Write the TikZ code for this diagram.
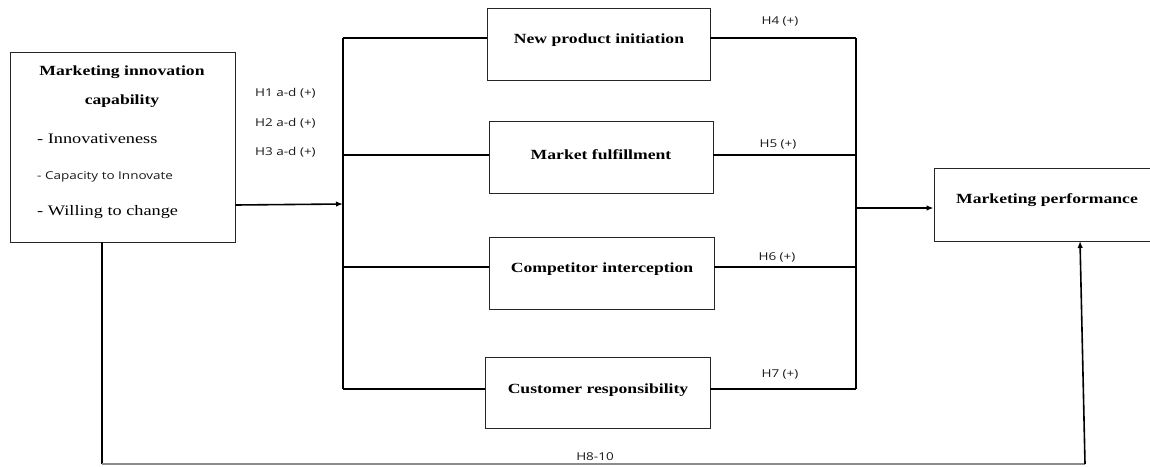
\documentclass[tikz,border=0pt]{standalone}
\usepackage{fontspec}
\setmainfont{Liberation Serif}
\newfontfamily\wideserif[FakeStretch=1.26]{Liberation Serif}
\newfontfamily\lblfont[FakeStretch=1.25]{Open Sans}
\usetikzlibrary{arrows.meta}
\tikzset{
  box/.style={draw=black!85, line width=0.9pt, rectangle, inner sep=0pt},
  conn/.style={draw=black, line width=1.6pt},
  bus/.style={draw=black, line width=2pt},
  arr/.style={conn, -{Latex[length=7pt,width=5.5pt]}},
  btxt/.style={font=\wideserif\fontsize{14}{16}\selectfont\bfseries, inner sep=0pt},
  rtxt/.style={font=\wideserif\fontsize{14.5}{16}\selectfont, inner sep=0pt, anchor=west},
  lbl/.style={font=\lblfont\fontsize{10.8}{12}\selectfont, inner sep=0pt, text=black!90}
}
\begin{document}
\begin{tikzpicture}[x=1pt,y=-1pt]
\useasboundingbox (0,0) rectangle (1150,466);
\clip (0,0) rectangle (1150,466);
% boxes
\node[box, minimum width=225pt, minimum height=190pt] (mic) at (122.5,147) {};
\node[box, minimum width=223pt, minimum height=72pt] (npi) at (598.5,44) {};
\node[box, minimum width=224pt, minimum height=72pt] (mf) at (601,157) {};
\node[box, minimum width=225pt, minimum height=72pt] (ci) at (601.5,273) {};
\node[box, minimum width=225pt, minimum height=71pt] (cr) at (597.5,392.5) {};
\node[box, minimum width=226pt, minimum height=73pt] (mp) at (1047,204.5) {};
% box texts
\node[btxt] (t1) at (122,72) {Marketing innovation};
\node[btxt] (t2) at (122,101) {capability};
\node[rtxt] (t3) at (37,139) {- Innovativeness};
\node[lbl, anchor=west] (t4) at (37,177) {- Capacity to Innovate};
\node[rtxt] (t5) at (37,212) {- Willing to change};
\node[btxt] (tnpi) at (599,40) {New product initiation};
\node[btxt] (tmf) at (601,155) {Market fulfillment};
\node[btxt] (tci) at (602,269) {Competitor interception};
\node[btxt] (tcr) at (598,390) {Customer responsibility};
\node[btxt] (tmp) at (1047,200) {Marketing performance};
% coordinates
\coordinate (lbin) at (343,204);
\coordinate (lbt) at (343,38);
\coordinate (lbb) at (343,389);
\coordinate (rbt) at (856,38);
\coordinate (rbb) at (856,389);
\coordinate (rbm) at (856,208);
\coordinate (d1) at (102,464);
\coordinate (d2) at (1085,464);
% left bus
\draw[arr] (mic.east |- 0,205) -- (lbin);
\draw[bus] (lbt) -- (lbb);
\draw[conn] (lbt) -- (npi.west |- lbt);
\draw[conn] (343,155) -- (mf.west |- 0,155);
\draw[conn] (343,267) -- (ci.west |- 0,267);
\draw[conn] (lbb) -- (cr.west |- lbb);
% right bus
\draw[conn] (npi.east |- rbt) -- (rbt);
\draw[conn] (mf.east |- 0,155) -- (856,155);
\draw[conn] (ci.east |- 0,267) -- (856,267);
\draw[conn] (cr.east |- rbb) -- (rbb);
\draw[bus] (rbt) -- (rbb);
\draw[arr] (rbm) -- (mp.west |- rbm);
% bottom link
\draw[conn] (mic.south -| 102,0) -- (d1);
\draw[draw=black!45, line width=1.6pt] (d1) -- (d2);
\draw[arr] (d2) -- (1080,241);
% labels
\node[lbl, anchor=west] (h1) at (255,93) {H1 a-d (+)};
\node[lbl, anchor=west] (h2) at (255,123) {H2 a-d (+)};
\node[lbl, anchor=west] (h3) at (255,152) {H3 a-d (+)};
\node[lbl] (h4) at (780,21) {H4 (+)};
\node[lbl] (h5) at (778,144) {H5 (+)};
\node[lbl] (h6) at (777,257) {H6 (+)};
\node[lbl] (h7) at (780,374) {H7 (+)};
\node[lbl] (h8) at (595,457) {H8-10};
\end{tikzpicture}
\end{document}
